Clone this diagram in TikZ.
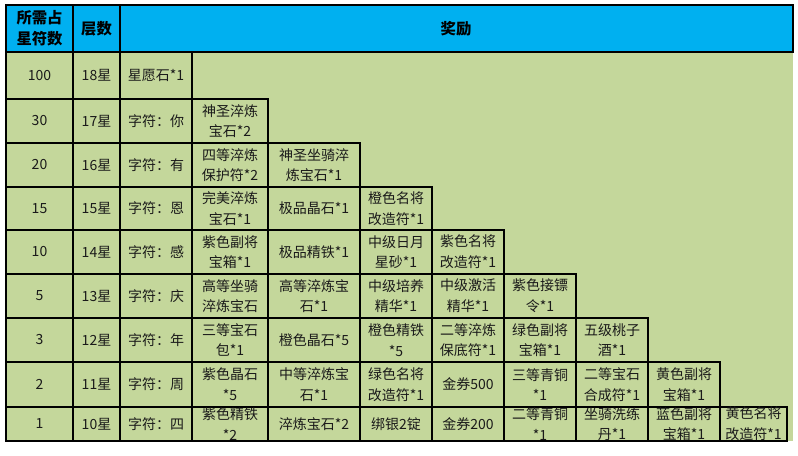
\documentclass[tikz,border=0pt]{standalone}
\usepackage{fontspec}
\setmainfont{Noto Sans CJK SC}
\definecolor{hdr}{HTML}{00B0F0}
\definecolor{grn}{HTML}{C4D79B}
\definecolor{txtc}{HTML}{1A1A1A}
\def\XS{{6,73,120,192,268,360,432,504,576,648,720,787}}
\def\YS{{52,99,143,187,230,274,318,362,407,441}}
\newcommand\cl[4]{%
 \pgfmathsetmacro\xa{\XS[#2]}\pgfmathsetmacro\xb{\XS[#2+1]}%
 \pgfmathsetmacro\ya{\YS[#3]}\pgfmathsetmacro\yb{\YS[#3+1]}%
 \draw[gridline] (\xa,\ya) rectangle (\xb,\yb);
 \node[txt] (#1) at ({(\xa+\xb)/2},{(\ya+\yb)/2}) {#4};}
\newcommand\row[4]{\cl{n#1}{0}{#1}{#2}\cl{l#1}{1}{#1}{#3}\cl{k#1}{2}{#1}{#4}}
\begin{document}
\begin{tikzpicture}[x=0.75pt,y=-0.75pt,
 gridline/.style={draw=black,line width=0.8pt},
 txt/.style={font=\fontsize{10.5}{15.5}\selectfont,text=txtc,align=center,inner sep=0pt},
 hd/.style={font=\fontsize{11.5}{16}\selectfont\bfseries,text=black,align=center,inner sep=0pt}]
\useasboundingbox (0,0) rectangle (798,456);
\fill[grn] (6,52) rectangle (793,441);
\fill[hdr] (6,5) rectangle (793,52);
\draw[gridline] (6,5) rectangle (793,52);
\draw[gridline] (73,5) -- (73,52) (120,5) -- (120,52);
\node[hd] (h1) at (39.5,28.5) {所需占\\星符数};
\node[hd] (h2) at (96.5,28.5) {层数};
\node[hd] (h3) at (456,28.5) {奖励};
\row{0}{100}{18星}{星愿石*1}
\row{1}{30}{17星}{字符：你}
\row{2}{20}{16星}{字符：有}
\row{3}{15}{15星}{字符：恩}
\row{4}{10}{14星}{字符：感}
\row{5}{5}{13星}{字符：庆}
\row{6}{3}{12星}{字符：年}
\row{7}{2}{11星}{字符：周}
\row{8}{1}{10星}{字符：四}
\cl{c13}{3}{1}{神圣淬炼\\宝石*2}
\cl{c23}{3}{2}{四等淬炼\\保护符*2}
\cl{c24}{4}{2}{神圣坐骑淬\\炼宝石*1}
\cl{c33}{3}{3}{完美淬炼\\宝石*1}
\cl{c34}{4}{3}{极品晶石*1}
\cl{c35}{5}{3}{橙色名将\\改造符*1}
\cl{c43}{3}{4}{紫色副将\\宝箱*1}
\cl{c44}{4}{4}{极品精铁*1}
\cl{c45}{5}{4}{中级日月\\星砂*1}
\cl{c46}{6}{4}{紫色名将\\改造符*1}
\cl{c53}{3}{5}{高等坐骑\\淬炼宝石}
\cl{c54}{4}{5}{高等淬炼宝\\石*1}
\cl{c55}{5}{5}{中级培养\\精华*1}
\cl{c56}{6}{5}{中级激活\\精华*1}
\cl{c57}{7}{5}{紫色接镖\\令*1}
\cl{c63}{3}{6}{三等宝石\\包*1}
\cl{c64}{4}{6}{橙色晶石*5}
\cl{c65}{5}{6}{橙色精铁\\*5}
\cl{c66}{6}{6}{二等淬炼\\保底符*1}
\cl{c67}{7}{6}{绿色副将\\宝箱*1}
\cl{c68}{8}{6}{五级桃子\\酒*1}
\cl{c73}{3}{7}{紫色晶石\\*5}
\cl{c74}{4}{7}{中等淬炼宝\\石*1}
\cl{c75}{5}{7}{绿色名将\\改造符*1}
\cl{c76}{6}{7}{金券500}
\cl{c77}{7}{7}{三等青铜\\*1}
\cl{c78}{8}{7}{二等宝石\\合成符*1}
\cl{c79}{9}{7}{黄色副将\\宝箱*1}
\cl{c83}{3}{8}{紫色精铁\\*2}
\cl{c84}{4}{8}{淬炼宝石*2}
\cl{c85}{5}{8}{绑银2锭}
\cl{c86}{6}{8}{金券200}
\cl{c87}{7}{8}{二等青铜\\*1}
\cl{c88}{8}{8}{坐骑洗练\\丹*1}
\cl{c89}{9}{8}{蓝色副将\\宝箱*1}
\cl{c810}{10}{8}{黄色名将\\改造符*1}
\end{tikzpicture}
\end{document}
